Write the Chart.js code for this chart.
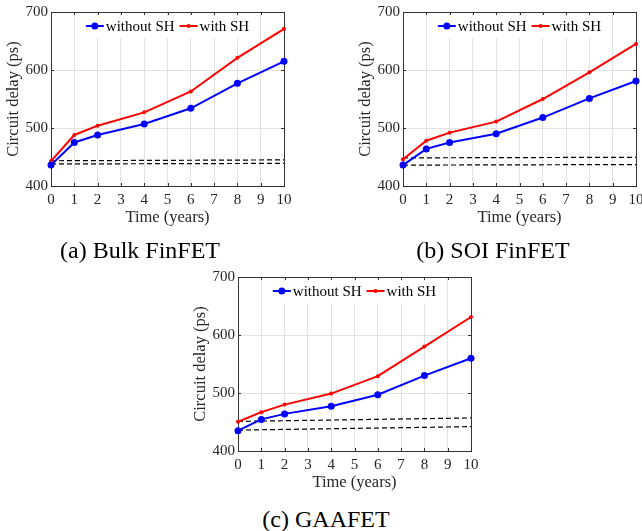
<!DOCTYPE html>
<html>
<head>
<meta charset="utf-8">
<script src="https://cdn.jsdelivr.net/npm/chart.js@4.4.1/dist/chart.umd.min.js"></script>
<style>
  html, body { margin: 0; padding: 0; background: #fff; overflow: hidden; }
  body { width: 642px; height: 531px; position: relative; }
  .panel { position: absolute; width: 300px; height: 240px; }
  .caption {
    position: absolute; width: 220px; text-align: center;
    font-family: 'Liberation Serif', 'Times New Roman', serif;
    font-size: 24px; line-height: 24px; color: #000;
  }
</style>
</head>
<body>
<div class="panel" style="left:0px;top:0px"><canvas id="bulk" width="300" height="240"></canvas></div>
<div class="panel" style="left:352px;top:0px"><canvas id="soi" width="300" height="240"></canvas></div>
<div class="panel" style="left:187px;top:265px"><canvas id="gaa" width="300" height="240"></canvas></div>
<div class="caption" style="left:30px;top:238px">(a) Bulk FinFET</div>
<div class="caption" style="left:383px;top:238px">(b) SOI FinFET</div>
<div class="caption" style="left:216px;top:507px">(c) GAAFET</div>

<script>
// années mesurées
const years = [0, 1, 2, 4, 6, 8, 10];
const dashYears = [0, 10];
const yTicks = [400, 500, 600, 700];
const seriesLabels = ['without SH', 'with SH'];

// (a) Bulk FinFET
const bulkWithout = [436, 475, 488, 507, 534, 577, 615];
const bulkWith = [443, 488, 504, 527, 563, 621, 671];
const bulkDashHigh = [443.5, 445];
const bulkDashLow = [438, 439];

// (b) SOI FinFET
const soiWithout = [436, 464, 475, 490, 518, 551, 581];
const soiWith = [446, 478, 492, 511, 550, 596, 645];
const soiDashHigh = [448.5, 449.5];
const soiDashLow = [436, 437];

// (c) GAAFET
const gaaWithout = [435, 454.5, 464, 477, 497, 530, 560];
const gaaWith = [450.5, 467, 480, 499, 529, 580, 631];
const gaaDashHigh = [451, 457];
const gaaDashLow = [436, 442];

const serif = "'Liberation Serif', 'Times New Roman', serif";
const axisColor = '#333333';
const gridColor = '#e2e2e2';

function pts(xs, ys) {
    return xs.map(function (x, i) { return { x: x, y: ys[i] }; });
}

// boîte des axes + petites graduations vers l'intérieur (style MATLAB)
const boxPlugin = {
    id: 'box',
    beforeDatasetsDraw(chart) {
        const ctx = chart.ctx;
        const a = chart.chartArea;
        const xs = chart.scales.x, ys = chart.scales.y;
        ctx.save();
        ctx.strokeStyle = axisColor;
        ctx.lineWidth = 1;
        ctx.beginPath();
        xs.ticks.forEach(function (t) {
            const px = Math.round(xs.getPixelForValue(t.value)) + 0.5;
            ctx.moveTo(px, a.bottom); ctx.lineTo(px, a.bottom - 3);
            ctx.moveTo(px, a.top); ctx.lineTo(px, a.top + 3);
        });
        ys.ticks.forEach(function (t) {
            const py = Math.round(ys.getPixelForValue(t.value)) + 0.5;
            ctx.moveTo(a.left, py); ctx.lineTo(a.left + 3, py);
            ctx.moveTo(a.right, py); ctx.lineTo(a.right - 3, py);
        });
        ctx.stroke();
        ctx.strokeRect(Math.round(a.left) + 0.5, Math.round(a.top) + 0.5,
            Math.round(a.right - a.left), Math.round(a.bottom - a.top));
        ctx.restore();
    }
};

// légende dans la zone du graphique, centrée en haut
const legendPlugin = {
    id: 'insideLegend',
    afterDatasetsDraw(chart) {
        const ctx = chart.ctx;
        const a = chart.chartArea;
        const items = chart.data.datasets.filter(function (d) { return d.label; });
        const seg = 18, gap = 2, space = 5;
        ctx.save();
        ctx.font = '15px ' + serif;
        let total = 0;
        items.forEach(function (d, i) {
            total += seg + gap + ctx.measureText(d.label).width + (i < items.length - 1 ? space : 0);
        });
        let x = (a.left + a.right) / 2 - total / 2;
        const y = a.top + 14;
        ctx.fillStyle = '#fff';
        ctx.fillRect(x - 2, a.top + 4, total + 4, 22);
        items.forEach(function (d) {
            ctx.strokeStyle = d.borderColor;
            ctx.lineWidth = 2;
            ctx.beginPath();
            ctx.moveTo(x, y); ctx.lineTo(x + seg, y);
            ctx.stroke();
            ctx.fillStyle = d.borderColor;
            ctx.beginPath();
            ctx.arc(x + seg / 2, y, d.pointRadius, 0, Math.PI * 2);
            ctx.fill();
            x += seg + gap;
            ctx.fillStyle = '#000';
            ctx.textBaseline = 'middle';
            ctx.fillText(d.label, x, y + 1);
            x += ctx.measureText(d.label).width + space;
        });
        ctx.restore();
    }
};

function makeChart(id, without, withSH, dashHigh, dashLow) {
    const ctx = document.getElementById(id).getContext('2d');
    return new Chart(ctx, {
        type: 'line',
        data: {
            datasets: [{
                label: seriesLabels[0],
                data: pts(years, without),
                borderColor: '#0000ff',
                backgroundColor: '#0000ff',
                borderWidth: 2,
                pointRadius: 3.5,
                pointBorderWidth: 0,
                tension: 0,
                clip: false
            }, {
                label: seriesLabels[1],
                data: pts(years, withSH),
                borderColor: '#ff0000',
                backgroundColor: '#ff0000',
                borderWidth: 2,
                pointRadius: 2,
                pointBorderWidth: 0,
                tension: 0,
                clip: false
            }, {
                label: '',
                data: pts(dashYears, dashHigh),
                borderColor: '#000',
                borderWidth: 1.2,
                borderDash: [5, 3],
                pointRadius: 0
            }, {
                label: '',
                data: pts(dashYears, dashLow),
                borderColor: '#000',
                borderWidth: 1.2,
                borderDash: [5, 3],
                pointRadius: 0
            }]
        },
        options: {
            responsive: false,
            animation: false,
            events: [],
            layout: { padding: { top: 12, right: 16, bottom: 12, left: 0 } },
            plugins: {
                legend: { display: false },
                tooltip: { enabled: false }
            },
            scales: {
                x: {
                    type: 'linear',
                    min: 0,
                    max: 10,
                    afterFit: function (s) { s.height = 42; },
                    ticks: { stepSize: 1, padding: 5, color: '#262626', font: { family: serif, size: 15 } },
                    grid: { color: gridColor, drawTicks: false },
                    border: { display: false },
                    title: { display: true, text: 'Time (years)', color: '#262626', padding: 0, font: { family: serif, size: 16.5 } }
                },
                y: {
                    min: 400,
                    max: 700,
                    afterFit: function (s) { s.width = 51; },
                    afterBuildTicks: function (s) { s.ticks = yTicks.map(function (v) { return { value: v }; }); },
                    ticks: { padding: 3, color: '#262626', font: { family: serif, size: 15 } },
                    grid: { color: gridColor, drawTicks: false },
                    border: { display: false },
                    title: { display: true, text: 'Circuit delay (ps)', color: '#262626', padding: { top: 4, bottom: 0 }, font: { family: serif, size: 16.5 } }
                }
            }
        },
        plugins: [boxPlugin, legendPlugin]
    });
}

makeChart('bulk', bulkWithout, bulkWith, bulkDashHigh, bulkDashLow);
makeChart('soi', soiWithout, soiWith, soiDashHigh, soiDashLow);
makeChart('gaa', gaaWithout, gaaWith, gaaDashHigh, gaaDashLow);
</script>
</body>
</html>
